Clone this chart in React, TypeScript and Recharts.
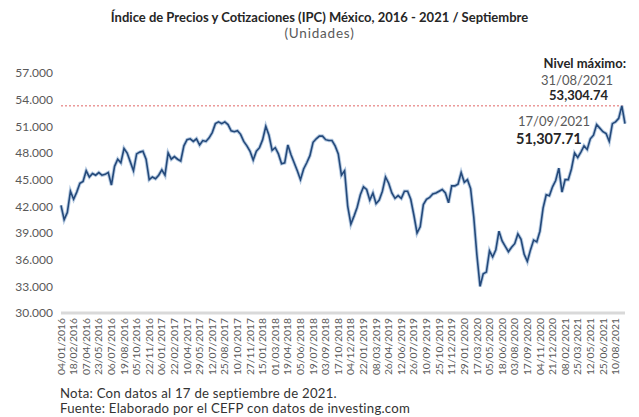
import { LineChart, Line, XAxis, YAxis, ReferenceLine } from 'recharts'

// etiquetas del eje X (una cada 32 sesiones)
const dateLabels = [
  '04/01/2016', '18/02/2016', '07/04/2016', '23/05/2016', '06/07/2016', '19/08/2016',
  '05/10/2016', '22/11/2016', '06/01/2017', '22/02/2017', '10/04/2017', '29/05/2017',
  '12/07/2017', '25/08/2017', '10/10/2017', '27/11/2017', '15/01/2018', '01/03/2018',
  '19/04/2018', '05/06/2018', '19/07/2018', '03/09/2018', '17/10/2018', '04/12/2018',
  '22/01/2019', '08/03/2019', '26/04/2019', '12/06/2019', '26/07/2019', '10/09/2019',
  '25/10/2019', '11/12/2019', '29/01/2020', '17/03/2020', '05/05/2020', '18/06/2020',
  '03/08/2020', '17/09/2020', '04/11/2020', '21/12/2020', '08/02/2021', '25/03/2021',
  '12/05/2021', '25/06/2021', '10/08/2021',
]

// IPC, un valor cada 8 sesiones
const ipcValues = [
  42100, 40500, 41300, 43700, 42800, 43600, 44600, 44800, 46000, 45300,
  45700, 45500, 45800, 45500, 45600, 45800, 44400, 46500, 47300, 46900,
  48500, 48000, 47000, 46000, 47900, 48100, 48200, 47300, 45000, 45300,
  45100, 45500, 46100, 45500, 48000, 47300, 47600, 47300, 47100, 48800,
  49500, 49600, 49300, 49600, 48900, 49400, 49300, 49700, 50300, 51300,
  51500, 51300, 51500, 51200, 50500, 50400, 50500, 50100, 49300, 48800,
  48200, 47200, 48200, 48600, 49500, 51000, 50000, 48300, 48600, 47900,
  46800, 46900, 48900, 47800, 46900, 46000, 45000, 46200, 46900, 47700,
  49200, 49600, 49900, 49900, 49500, 49400, 49400, 48800, 47900, 45500,
  46000, 42000, 40000, 40900, 41900, 43300, 44200, 43900, 42700, 43500,
  42300, 42700, 43700, 45300, 44600, 43500, 42900, 43200, 42900, 43700,
  43700, 42800, 41000, 39000, 39700, 42200, 42800, 43000, 43400, 43500,
  43700, 43900, 43500, 42400, 44300, 44300, 44500, 45800, 44700, 45000,
  44000, 40800, 36500, 33000, 34400, 34600, 37000, 36300, 37100, 39200,
  38100, 37500, 36900, 37400, 37800, 38900, 38300, 36600, 35800, 37100,
  38200, 38000, 39200, 41800, 43300, 43200, 44200, 44900, 46300, 43600,
  45000, 45000, 46200, 48000, 47500, 48100, 48800, 48400, 49600, 50000,
  51200, 50800, 50400, 50200, 49300, 51300, 51500, 51900, 53304.74, 51307.71,
]

const yTicks = [30000, 33000, 36000, 39000, 42000, 45000, 48000, 51000, 54000, 57000]
const maxLevel = 53304.74

const STEP = 8
const LABEL_EVERY = 32

const data = ipcValues.map((v, i) => ({ t: i * STEP, v }))
const xTicks = dateLabels.map((_, k) => k * LABEL_EVERY)

const FONT = 'Lato, "Noto Sans", sans-serif'

function DateTick({ x, y, payload }: any) {
  const label = dateLabels[Math.round(payload.value / LABEL_EVERY)]
  return (
    <text
      x={x}
      y={y}
      transform={`rotate(-90, ${x}, ${y})`}
      textAnchor="end"
      dy="0.35em"
      fontSize={10.3}
      fill="#595959"
      fontFamily={FONT}
    >
      {label}
    </text>
  )
}

const fmtY = (v: number) => v.toLocaleString('de-DE')

export default function App() {
  return (
    <div style={{ position: 'relative', width: 639, height: 417, background: '#fff', fontFamily: FONT }}>
      <style>{'body{margin:0}'}</style>
      <div style={{ position: 'absolute', left: 0, width: 639, top: 9, textAlign: 'center', fontSize: 13, fontWeight: 700, color: '#262626', lineHeight: '16px' }}>
        Índice de Precios y Cotizaciones (IPC) México, 2016 - 2021 / Septiembre
      </div>
      <div style={{ position: 'absolute', left: 0, width: 639, top: 25, textAlign: 'center', fontSize: 13.5, letterSpacing: 0.8, color: '#595959', lineHeight: '16px' }}>
        (Unidades)
      </div>

      <LineChart width={639} height={417} data={data} margin={{ top: 73, right: 14, bottom: 44, left: 0 }}>
        <XAxis
          dataKey="t"
          type="number"
          domain={[0, (ipcValues.length - 1) * STEP]}
          ticks={xTicks}
          interval={0}
          tick={<DateTick />}
          tickLine={false}
          tickSize={0}
          tickMargin={5}
          height={60}
          axisLine={{ stroke: '#d9d9d9', strokeWidth: 3 }}
        />
        <YAxis
          domain={[30000, 57000]}
          ticks={yTicks}
          tickFormatter={fmtY}
          width={61}
          axisLine={false}
          tickLine={false}
          tickSize={0}
          tickMargin={8}
          tick={{ fontSize: 12, fill: '#595959', fontFamily: FONT }}
        />
        <ReferenceLine y={maxLevel} stroke="#e06666" strokeDasharray="2 2" strokeWidth={1} />
        <Line type="linear" dataKey="v" stroke="#b7cbe2" strokeWidth={3.5} dot={false} isAnimationActive={false} />
        <Line type="linear" dataKey="v" stroke="#24497a" strokeWidth={1.6} dot={false} isAnimationActive={false} />
      </LineChart>

      <div style={{ position: 'absolute', right: 13, top: 55, fontSize: 13, fontWeight: 700, color: '#262626', lineHeight: '16px' }}>
        Nivel máximo:
      </div>
      <div style={{ position: 'absolute', right: 26, top: 72, fontSize: 13, color: '#595959', lineHeight: '16px' }}>
        31/08/2021
      </div>
      <div style={{ position: 'absolute', right: 31, top: 87, fontSize: 13, fontWeight: 700, color: '#262626', lineHeight: '16px' }}>
        53,304.74
      </div>
      <div style={{ position: 'absolute', left: 518, top: 113, fontSize: 13, color: '#595959', lineHeight: '16px' }}>
        17/09/2021
      </div>
      <div style={{ position: 'absolute', left: 516, top: 130, fontSize: 14.5, fontWeight: 700, color: '#262626', lineHeight: '17px' }}>
        51,307.71
      </div>

      <div style={{ position: 'absolute', left: 60, top: 386, fontSize: 13.2, letterSpacing: 0.25, color: '#333', lineHeight: '14px' }}>
        Nota: Con datos al 17 de septiembre de 2021.
      </div>
      <div style={{ position: 'absolute', left: 60, top: 401, fontSize: 13.2, letterSpacing: 0.25, color: '#333', lineHeight: '14px' }}>
        Fuente: Elaborado por el CEFP con datos de investing.com
      </div>
    </div>
  )
}
